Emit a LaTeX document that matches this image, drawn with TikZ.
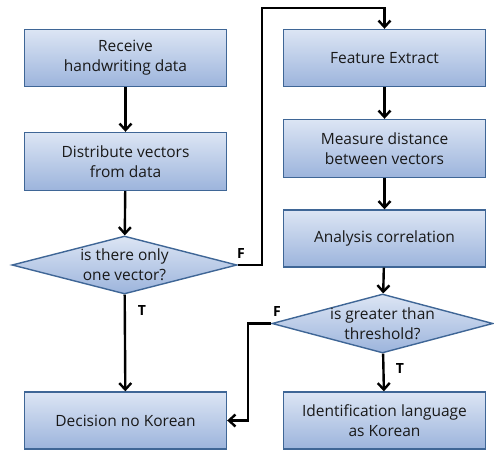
\documentclass[tikz,border=0pt]{standalone}
\usepackage{fontspec}
\setmainfont{Open Sans}
\usetikzlibrary{shapes.geometric,arrows.meta}
\definecolor{topc}{HTML}{DCE5F4}
\definecolor{botc}{HTML}{9CB4DC}
\definecolor{edgec}{HTML}{3F6696}
\begin{document}
\begin{tikzpicture}[x=1pt,y=-1pt,
  txt/.style={align=center, font=\fontsize{15.5}{20}\selectfont, text=black!90, inner sep=0pt},
  box/.style={rectangle, draw=edgec, line width=1.4pt, top color=topc, bottom color=botc,
    minimum width=202pt, minimum height=57pt, inner sep=0pt, txt},
  dec/.style={diamond, draw=edgec, line width=1.4pt, top color=topc, bottom color=botc,
    inner sep=0pt},
  arr/.style={line width=2.4pt, -{Straight Barb[length=6.5pt,width=12pt,line width=2.4pt]}},
  lbl/.style={font=\bfseries\fontsize{14}{16}\selectfont, inner sep=0pt}]
\useasboundingbox (0,0) rectangle (494,450);
\node[box] (r1) at (125.5,58) {Receive\\handwriting data};
\node[box, minimum height=58pt] (r2) at (125.5,161.5) {Distribute vectors\\from data};
\node[dec, minimum width=225pt, minimum height=58pt] (d1) at (124.5,265) {};
\node[txt] (d1t) at (d1.center) {is there only\\one vector?};
\node[box] (dn) at (125.5,420.5) {Decision no Korean};
\node[box] (fe) at (384.5,58) {Feature Extract};
\node[box, minimum height=58pt] (md) at (384.5,148.5) {Measure distance\\between vectors};
\node[box] (ac) at (384.5,238.5) {Analysis correlation};
\node[dec, minimum width=221pt, minimum height=59pt] (d2) at (382.5,323.5) {};
\node[txt] (d2t) at (d2.center) {is greater than\\threshold?};
\node[box] (id) at (384.5,420.5) {Identification language\\as Korean};
\coordinate (c1) at (262,265);
\coordinate (c2) at (262,8);
\coordinate (c3) at (384.5,8);
\coordinate (c4) at (248,323.5);
\coordinate (c5) at (248,420.5);
\draw[arr] (r1) -- (r2);
\draw[arr] (r2) -- (d1);
\draw[arr] (d1) -- (dn);
\draw[arr] (d1.east) -- (c1) -- (c2) -- (c3) -- (fe.north);
\draw[arr] (fe) -- (md);
\draw[arr] (md) -- (ac);
\draw[arr] (ac) -- (d2);
\draw[arr] (d2) -- (id);
\draw[arr] (d2.west) -- (c4) -- (c5) -- (dn.east);
\node[lbl] (f1) at (241,253) {F};
\node[lbl] (t1) at (142,310) {T};
\node[lbl] (f2) at (277,311) {F};
\node[lbl] (t2) at (400,368) {T};
\end{tikzpicture}
\end{document}
